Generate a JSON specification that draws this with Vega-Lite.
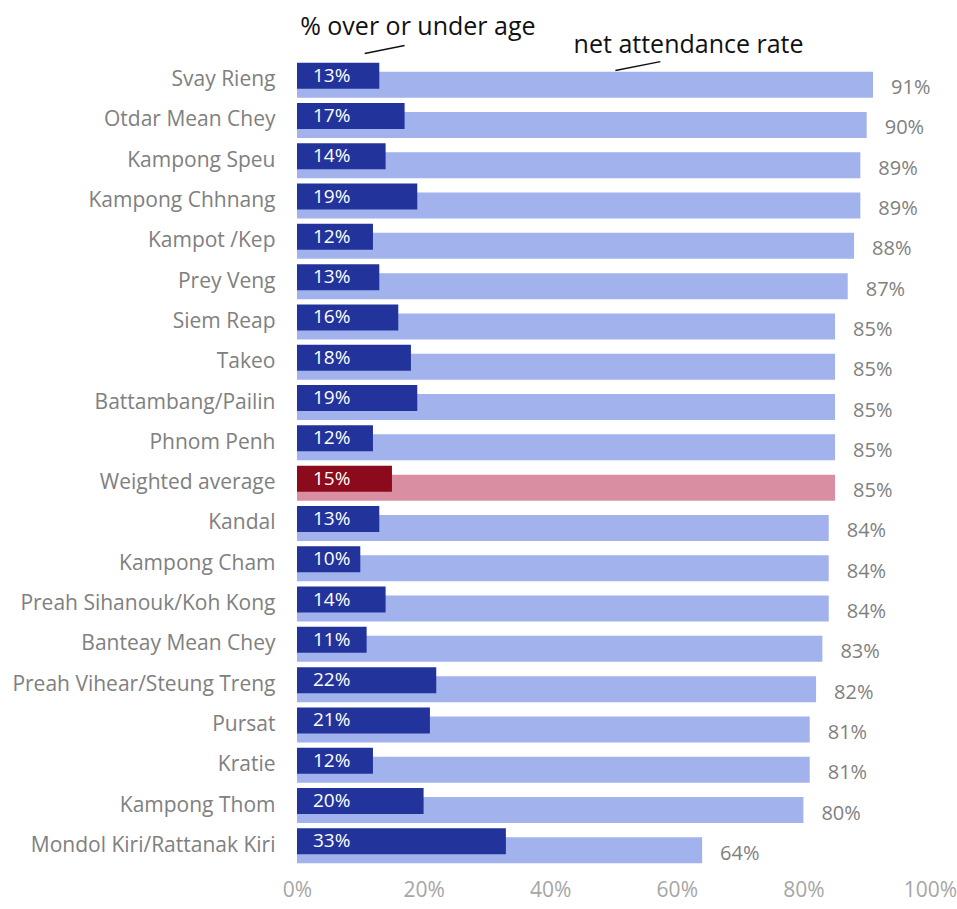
{
  "$schema": "https://vega.github.io/schema/vega-lite/v6.json",
  "autosize": {"type": "none"},
  "padding": {"left": 297, "top": 60, "right": 27, "bottom": 43},
  "width": 633,
  "height": 806,
  "background": "white",
  "config": {"view": {"stroke": null}, "font": "Open Sans"},
  "datasets": {
    "rows": [
      {"region": "Svay Rieng", "age": 0.13, "nar": 0.91},
      {"region": "Otdar Mean Chey", "age": 0.17, "nar": 0.90},
      {"region": "Kampong Speu", "age": 0.14, "nar": 0.89},
      {"region": "Kampong Chhnang", "age": 0.19, "nar": 0.89},
      {"region": "Kampot /Kep", "age": 0.12, "nar": 0.88},
      {"region": "Prey Veng", "age": 0.13, "nar": 0.87},
      {"region": "Siem Reap", "age": 0.16, "nar": 0.85},
      {"region": "Takeo", "age": 0.18, "nar": 0.85},
      {"region": "Battambang/Pailin", "age": 0.19, "nar": 0.85},
      {"region": "Phnom Penh", "age": 0.12, "nar": 0.85},
      {"region": "Weighted average", "age": 0.15, "nar": 0.85},
      {"region": "Kandal", "age": 0.13, "nar": 0.84},
      {"region": "Kampong Cham", "age": 0.10, "nar": 0.84},
      {"region": "Preah Sihanouk/Koh Kong", "age": 0.14, "nar": 0.84},
      {"region": "Banteay Mean Chey", "age": 0.11, "nar": 0.83},
      {"region": "Preah Vihear/Steung Treng", "age": 0.22, "nar": 0.82},
      {"region": "Pursat", "age": 0.21, "nar": 0.81},
      {"region": "Kratie", "age": 0.12, "nar": 0.81},
      {"region": "Kampong Thom", "age": 0.20, "nar": 0.80},
      {"region": "Mondol Kiri/Rattanak Kiri", "age": 0.33, "nar": 0.64}
    ],
    "notes": [
      {"label": "% over or under age", "x": 0.005, "y": -0.83},
      {"label": "net attendance rate", "x": 0.437, "y": -0.38}
    ],
    "leaders": [
      {"id": "a", "x": 0.107, "y": -0.16},
      {"id": "a", "x": 0.170, "y": -0.36},
      {"id": "b", "x": 0.503, "y": 0.26},
      {"id": "b", "x": 0.574, "y": 0.04}
    ]
  },
  "layer": [
    {
      "data": {"name": "rows"},
      "layer": [
        {
          "mark": {"type": "bar", "height": 26, "yOffset": 4.5},
          "encoding": {
            "y": {"field": "region", "type": "nominal", "sort": null,
              "scale": {"paddingInner": 0, "paddingOuter": 0},
              "axis": {"title": null, "ticks": false, "domain": false, "labelPadding": 22,
                "labelFontSize": 21, "labelColor": "#808080", "labelFont": "Open Sans", "labelLimit": 400}},
            "x": {"field": "nar", "type": "quantitative",
              "scale": {"domain": [0, 1], "nice": false},
              "axis": {"title": null, "format": ".0%", "values": [0, 0.2, 0.4, 0.6, 0.8, 1],
                "ticks": false, "domain": false, "grid": false, "labelPadding": 13,
                "labelFontSize": 21, "labelColor": "#a6a6a6", "labelFont": "Open Sans", "labelFlush": false}},
            "color": {"condition": {"test": "datum.region === 'Weighted average'", "value": "#da8ea1"}, "value": "#a2b2ec"}
          }
        },
        {
          "mark": {"type": "bar", "height": 26, "yOffset": -4.5},
          "encoding": {
            "y": {"field": "region", "type": "nominal", "sort": null},
            "x": {"field": "age", "type": "quantitative"},
            "color": {"condition": {"test": "datum.region === 'Weighted average'", "value": "#8b0b1d"}, "value": "#22349c"}
          }
        },
        {
          "mark": {"type": "text", "align": "left", "baseline": "middle", "dx": 16, "yOffset": -4.5, "fontSize": 19, "color": "white", "font": "Open Sans"},
          "encoding": {
            "y": {"field": "region", "type": "nominal", "sort": null},
            "x": {"datum": 0, "type": "quantitative"},
            "text": {"field": "age", "type": "quantitative", "format": ".0%"}
          }
        },
        {
          "mark": {"type": "text", "align": "left", "baseline": "middle", "dx": 18, "yOffset": 8, "fontSize": 20, "color": "#7f7f7f", "font": "Open Sans"},
          "encoding": {
            "y": {"field": "region", "type": "nominal", "sort": null},
            "x": {"field": "nar", "type": "quantitative"},
            "text": {"field": "nar", "type": "quantitative", "format": ".0%"}
          }
        }
      ]
    },
    {
      "layer": [
        {
          "data": {"name": "notes"},
          "mark": {"type": "text", "align": "left", "baseline": "middle", "fontSize": 25, "color": "#111111", "font": "Open Sans"},
          "encoding": {
            "x": {"field": "x", "type": "quantitative"},
            "y": {"field": "y", "type": "quantitative", "scale": {"domain": [0, 20], "reverse": true, "nice": false, "zero": false}, "axis": null},
            "text": {"field": "label", "type": "nominal"}
          }
        },
        {
          "data": {"name": "leaders"},
          "mark": {"type": "line", "color": "#111111", "strokeWidth": 1.5},
          "encoding": {
            "x": {"field": "x", "type": "quantitative"},
            "y": {"field": "y", "type": "quantitative", "scale": {"domain": [0, 20], "reverse": true, "nice": false, "zero": false}, "axis": null},
            "detail": {"field": "id", "type": "nominal"}
          }
        }
      ]
    }
  ],
  "resolve": {"scale": {"y": "independent"}}
}
